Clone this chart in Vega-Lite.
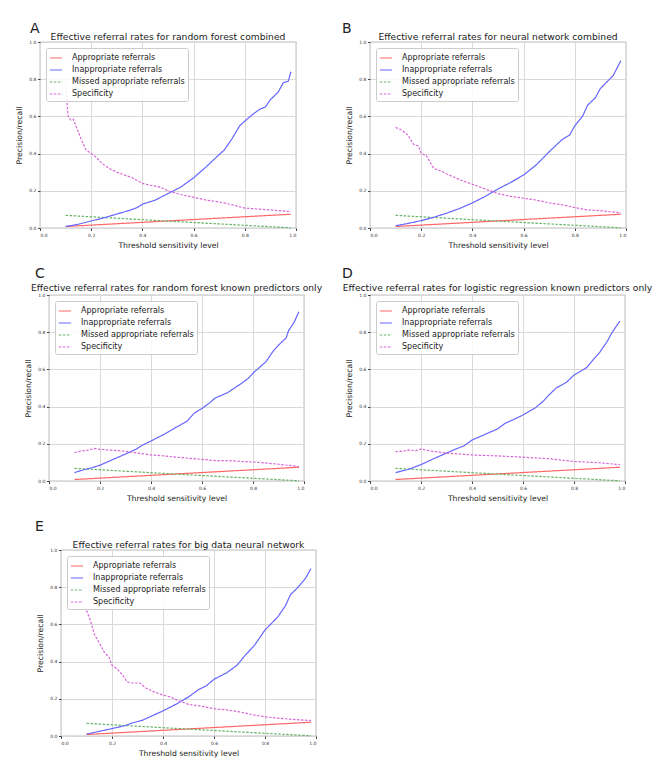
{
  "$schema": "https://vega.github.io/schema/vega-lite/v6.json",
  "padding": {"left": 0, "top": 22, "right": 0, "bottom": 0},
  "background": "white",
  "config": {
    "font": "DejaVu Sans",
    "view": {"stroke": "#444", "strokeWidth": 0.8},
    "axis": {"domain": false, "grid": true, "gridColor": "#d9d9d9", "gridWidth": 1, "tickColor": "#444", "tickSize": 2.5, "labelFontSize": 4.5, "labelColor": "#333", "titleFontSize": 7.7, "titleFontWeight": "normal", "titleColor": "#222", "labelPadding": 1.5, "titlePadding": 5},
    "title": {"fontSize": 9.2, "fontWeight": "normal", "color": "#222", "offset": -3.5, "frame": "group"},
    "legend": {"orient": "top-left", "fillColor": "rgba(255,255,255,0.85)", "strokeColor": "#cccccc", "padding": 3, "cornerRadius": 2, "offset": 6, "symbolType": "stroke", "symbolSize": 150, "symbolStrokeWidth": 1.1, "labelFontSize": 8, "labelColor": "#222", "rowPadding": 1, "labelOffset": 9},
    "line": {"strokeWidth": 1.2}
  },
  "datasets": {
    "rates": [
      {"panel": "A", "series": "Appropriate referrals", "threshold": 0.1, "rate": 0.008},
      {"panel": "A", "series": "Appropriate referrals", "threshold": 0.5, "rate": 0.038},
      {"panel": "A", "series": "Appropriate referrals", "threshold": 0.98, "rate": 0.074},
      {"panel": "A", "series": "Missed appropriate referrals", "threshold": 0.1, "rate": 0.068},
      {"panel": "A", "series": "Missed appropriate referrals", "threshold": 0.5, "rate": 0.037},
      {"panel": "A", "series": "Missed appropriate referrals", "threshold": 0.98, "rate": 0.001},
      {"panel": "A", "series": "Inappropriate referrals", "threshold": 0.1, "rate": 0.008},
      {"panel": "A", "series": "Inappropriate referrals", "threshold": 0.15, "rate": 0.02},
      {"panel": "A", "series": "Inappropriate referrals", "threshold": 0.2, "rate": 0.038},
      {"panel": "A", "series": "Inappropriate referrals", "threshold": 0.25, "rate": 0.055},
      {"panel": "A", "series": "Inappropriate referrals", "threshold": 0.3, "rate": 0.075},
      {"panel": "A", "series": "Inappropriate referrals", "threshold": 0.35, "rate": 0.095},
      {"panel": "A", "series": "Inappropriate referrals", "threshold": 0.38, "rate": 0.11},
      {"panel": "A", "series": "Inappropriate referrals", "threshold": 0.4, "rate": 0.128},
      {"panel": "A", "series": "Inappropriate referrals", "threshold": 0.45, "rate": 0.15},
      {"panel": "A", "series": "Inappropriate referrals", "threshold": 0.5, "rate": 0.185},
      {"panel": "A", "series": "Inappropriate referrals", "threshold": 0.55, "rate": 0.22},
      {"panel": "A", "series": "Inappropriate referrals", "threshold": 0.6, "rate": 0.27},
      {"panel": "A", "series": "Inappropriate referrals", "threshold": 0.65, "rate": 0.33},
      {"panel": "A", "series": "Inappropriate referrals", "threshold": 0.7, "rate": 0.395},
      {"panel": "A", "series": "Inappropriate referrals", "threshold": 0.72, "rate": 0.42},
      {"panel": "A", "series": "Inappropriate referrals", "threshold": 0.75, "rate": 0.48},
      {"panel": "A", "series": "Inappropriate referrals", "threshold": 0.78, "rate": 0.55},
      {"panel": "A", "series": "Inappropriate referrals", "threshold": 0.8, "rate": 0.575},
      {"panel": "A", "series": "Inappropriate referrals", "threshold": 0.83, "rate": 0.61},
      {"panel": "A", "series": "Inappropriate referrals", "threshold": 0.86, "rate": 0.64},
      {"panel": "A", "series": "Inappropriate referrals", "threshold": 0.88, "rate": 0.65},
      {"panel": "A", "series": "Inappropriate referrals", "threshold": 0.9, "rate": 0.69},
      {"panel": "A", "series": "Inappropriate referrals", "threshold": 0.93, "rate": 0.73},
      {"panel": "A", "series": "Inappropriate referrals", "threshold": 0.95, "rate": 0.78},
      {"panel": "A", "series": "Inappropriate referrals", "threshold": 0.97, "rate": 0.79},
      {"panel": "A", "series": "Inappropriate referrals", "threshold": 0.98, "rate": 0.84},
      {"panel": "A", "series": "Specificity", "threshold": 0.1, "rate": 0.78},
      {"panel": "A", "series": "Specificity", "threshold": 0.105, "rate": 0.68},
      {"panel": "A", "series": "Specificity", "threshold": 0.11, "rate": 0.6},
      {"panel": "A", "series": "Specificity", "threshold": 0.12, "rate": 0.58},
      {"panel": "A", "series": "Specificity", "threshold": 0.13, "rate": 0.585},
      {"panel": "A", "series": "Specificity", "threshold": 0.14, "rate": 0.55},
      {"panel": "A", "series": "Specificity", "threshold": 0.16, "rate": 0.48},
      {"panel": "A", "series": "Specificity", "threshold": 0.18, "rate": 0.42},
      {"panel": "A", "series": "Specificity", "threshold": 0.2, "rate": 0.4},
      {"panel": "A", "series": "Specificity", "threshold": 0.22, "rate": 0.38},
      {"panel": "A", "series": "Specificity", "threshold": 0.24, "rate": 0.35},
      {"panel": "A", "series": "Specificity", "threshold": 0.27, "rate": 0.32},
      {"panel": "A", "series": "Specificity", "threshold": 0.3, "rate": 0.3},
      {"panel": "A", "series": "Specificity", "threshold": 0.33, "rate": 0.285},
      {"panel": "A", "series": "Specificity", "threshold": 0.36, "rate": 0.27},
      {"panel": "A", "series": "Specificity", "threshold": 0.4, "rate": 0.24},
      {"panel": "A", "series": "Specificity", "threshold": 0.43, "rate": 0.23},
      {"panel": "A", "series": "Specificity", "threshold": 0.47, "rate": 0.22},
      {"panel": "A", "series": "Specificity", "threshold": 0.5, "rate": 0.2},
      {"panel": "A", "series": "Specificity", "threshold": 0.55, "rate": 0.18},
      {"panel": "A", "series": "Specificity", "threshold": 0.6, "rate": 0.165},
      {"panel": "A", "series": "Specificity", "threshold": 0.65, "rate": 0.15},
      {"panel": "A", "series": "Specificity", "threshold": 0.7, "rate": 0.14},
      {"panel": "A", "series": "Specificity", "threshold": 0.75, "rate": 0.125},
      {"panel": "A", "series": "Specificity", "threshold": 0.8, "rate": 0.107},
      {"panel": "A", "series": "Specificity", "threshold": 0.85, "rate": 0.102},
      {"panel": "A", "series": "Specificity", "threshold": 0.9, "rate": 0.097},
      {"panel": "A", "series": "Specificity", "threshold": 0.98, "rate": 0.088},

      {"panel": "B", "series": "Appropriate referrals", "threshold": 0.1, "rate": 0.008},
      {"panel": "B", "series": "Appropriate referrals", "threshold": 0.5, "rate": 0.038},
      {"panel": "B", "series": "Appropriate referrals", "threshold": 0.98, "rate": 0.074},
      {"panel": "B", "series": "Missed appropriate referrals", "threshold": 0.1, "rate": 0.068},
      {"panel": "B", "series": "Missed appropriate referrals", "threshold": 0.5, "rate": 0.037},
      {"panel": "B", "series": "Missed appropriate referrals", "threshold": 0.98, "rate": 0.001},
      {"panel": "B", "series": "Inappropriate referrals", "threshold": 0.1, "rate": 0.012},
      {"panel": "B", "series": "Inappropriate referrals", "threshold": 0.15, "rate": 0.025},
      {"panel": "B", "series": "Inappropriate referrals", "threshold": 0.2, "rate": 0.04},
      {"panel": "B", "series": "Inappropriate referrals", "threshold": 0.25, "rate": 0.058},
      {"panel": "B", "series": "Inappropriate referrals", "threshold": 0.3, "rate": 0.08},
      {"panel": "B", "series": "Inappropriate referrals", "threshold": 0.35, "rate": 0.105},
      {"panel": "B", "series": "Inappropriate referrals", "threshold": 0.4, "rate": 0.135},
      {"panel": "B", "series": "Inappropriate referrals", "threshold": 0.45, "rate": 0.17},
      {"panel": "B", "series": "Inappropriate referrals", "threshold": 0.5, "rate": 0.21},
      {"panel": "B", "series": "Inappropriate referrals", "threshold": 0.55, "rate": 0.245},
      {"panel": "B", "series": "Inappropriate referrals", "threshold": 0.6, "rate": 0.285},
      {"panel": "B", "series": "Inappropriate referrals", "threshold": 0.65, "rate": 0.34},
      {"panel": "B", "series": "Inappropriate referrals", "threshold": 0.7, "rate": 0.41},
      {"panel": "B", "series": "Inappropriate referrals", "threshold": 0.75, "rate": 0.475},
      {"panel": "B", "series": "Inappropriate referrals", "threshold": 0.78, "rate": 0.5},
      {"panel": "B", "series": "Inappropriate referrals", "threshold": 0.8, "rate": 0.55},
      {"panel": "B", "series": "Inappropriate referrals", "threshold": 0.83, "rate": 0.6},
      {"panel": "B", "series": "Inappropriate referrals", "threshold": 0.85, "rate": 0.66},
      {"panel": "B", "series": "Inappropriate referrals", "threshold": 0.88, "rate": 0.7},
      {"panel": "B", "series": "Inappropriate referrals", "threshold": 0.9, "rate": 0.75},
      {"panel": "B", "series": "Inappropriate referrals", "threshold": 0.95, "rate": 0.82},
      {"panel": "B", "series": "Inappropriate referrals", "threshold": 0.98, "rate": 0.9},
      {"panel": "B", "series": "Specificity", "threshold": 0.1, "rate": 0.54},
      {"panel": "B", "series": "Specificity", "threshold": 0.12, "rate": 0.53},
      {"panel": "B", "series": "Specificity", "threshold": 0.14, "rate": 0.51},
      {"panel": "B", "series": "Specificity", "threshold": 0.15, "rate": 0.495},
      {"panel": "B", "series": "Specificity", "threshold": 0.17, "rate": 0.45},
      {"panel": "B", "series": "Specificity", "threshold": 0.19, "rate": 0.44},
      {"panel": "B", "series": "Specificity", "threshold": 0.2, "rate": 0.4},
      {"panel": "B", "series": "Specificity", "threshold": 0.22, "rate": 0.39},
      {"panel": "B", "series": "Specificity", "threshold": 0.24, "rate": 0.34},
      {"panel": "B", "series": "Specificity", "threshold": 0.25, "rate": 0.32},
      {"panel": "B", "series": "Specificity", "threshold": 0.28, "rate": 0.305},
      {"panel": "B", "series": "Specificity", "threshold": 0.3, "rate": 0.29},
      {"panel": "B", "series": "Specificity", "threshold": 0.35, "rate": 0.26},
      {"panel": "B", "series": "Specificity", "threshold": 0.4, "rate": 0.235},
      {"panel": "B", "series": "Specificity", "threshold": 0.45, "rate": 0.21},
      {"panel": "B", "series": "Specificity", "threshold": 0.5, "rate": 0.185},
      {"panel": "B", "series": "Specificity", "threshold": 0.55, "rate": 0.17},
      {"panel": "B", "series": "Specificity", "threshold": 0.6, "rate": 0.16},
      {"panel": "B", "series": "Specificity", "threshold": 0.65, "rate": 0.15},
      {"panel": "B", "series": "Specificity", "threshold": 0.7, "rate": 0.135},
      {"panel": "B", "series": "Specificity", "threshold": 0.75, "rate": 0.125},
      {"panel": "B", "series": "Specificity", "threshold": 0.8, "rate": 0.11},
      {"panel": "B", "series": "Specificity", "threshold": 0.85, "rate": 0.097},
      {"panel": "B", "series": "Specificity", "threshold": 0.9, "rate": 0.093},
      {"panel": "B", "series": "Specificity", "threshold": 0.98, "rate": 0.082},

      {"panel": "C", "series": "Appropriate referrals", "threshold": 0.1, "rate": 0.008},
      {"panel": "C", "series": "Appropriate referrals", "threshold": 0.5, "rate": 0.038},
      {"panel": "C", "series": "Appropriate referrals", "threshold": 0.98, "rate": 0.074},
      {"panel": "C", "series": "Missed appropriate referrals", "threshold": 0.1, "rate": 0.068},
      {"panel": "C", "series": "Missed appropriate referrals", "threshold": 0.5, "rate": 0.037},
      {"panel": "C", "series": "Missed appropriate referrals", "threshold": 0.98, "rate": 0.001},
      {"panel": "C", "series": "Inappropriate referrals", "threshold": 0.1, "rate": 0.045},
      {"panel": "C", "series": "Inappropriate referrals", "threshold": 0.13, "rate": 0.058},
      {"panel": "C", "series": "Inappropriate referrals", "threshold": 0.17, "rate": 0.072},
      {"panel": "C", "series": "Inappropriate referrals", "threshold": 0.2, "rate": 0.085},
      {"panel": "C", "series": "Inappropriate referrals", "threshold": 0.25, "rate": 0.115},
      {"panel": "C", "series": "Inappropriate referrals", "threshold": 0.3, "rate": 0.145},
      {"panel": "C", "series": "Inappropriate referrals", "threshold": 0.34, "rate": 0.17},
      {"panel": "C", "series": "Inappropriate referrals", "threshold": 0.37, "rate": 0.195},
      {"panel": "C", "series": "Inappropriate referrals", "threshold": 0.4, "rate": 0.215},
      {"panel": "C", "series": "Inappropriate referrals", "threshold": 0.45, "rate": 0.25},
      {"panel": "C", "series": "Inappropriate referrals", "threshold": 0.5, "rate": 0.29},
      {"panel": "C", "series": "Inappropriate referrals", "threshold": 0.54, "rate": 0.32},
      {"panel": "C", "series": "Inappropriate referrals", "threshold": 0.57, "rate": 0.365},
      {"panel": "C", "series": "Inappropriate referrals", "threshold": 0.6, "rate": 0.39},
      {"panel": "C", "series": "Inappropriate referrals", "threshold": 0.63, "rate": 0.42},
      {"panel": "C", "series": "Inappropriate referrals", "threshold": 0.65, "rate": 0.445},
      {"panel": "C", "series": "Inappropriate referrals", "threshold": 0.7, "rate": 0.475},
      {"panel": "C", "series": "Inappropriate referrals", "threshold": 0.75, "rate": 0.52},
      {"panel": "C", "series": "Inappropriate referrals", "threshold": 0.78, "rate": 0.55},
      {"panel": "C", "series": "Inappropriate referrals", "threshold": 0.8, "rate": 0.58},
      {"panel": "C", "series": "Inappropriate referrals", "threshold": 0.85, "rate": 0.64},
      {"panel": "C", "series": "Inappropriate referrals", "threshold": 0.88, "rate": 0.7},
      {"panel": "C", "series": "Inappropriate referrals", "threshold": 0.9, "rate": 0.73},
      {"panel": "C", "series": "Inappropriate referrals", "threshold": 0.93, "rate": 0.77},
      {"panel": "C", "series": "Inappropriate referrals", "threshold": 0.94, "rate": 0.81},
      {"panel": "C", "series": "Inappropriate referrals", "threshold": 0.96, "rate": 0.85},
      {"panel": "C", "series": "Inappropriate referrals", "threshold": 0.98, "rate": 0.91},
      {"panel": "C", "series": "Specificity", "threshold": 0.1, "rate": 0.152},
      {"panel": "C", "series": "Specificity", "threshold": 0.12, "rate": 0.16},
      {"panel": "C", "series": "Specificity", "threshold": 0.15, "rate": 0.165},
      {"panel": "C", "series": "Specificity", "threshold": 0.18, "rate": 0.175},
      {"panel": "C", "series": "Specificity", "threshold": 0.2, "rate": 0.17},
      {"panel": "C", "series": "Specificity", "threshold": 0.25, "rate": 0.165},
      {"panel": "C", "series": "Specificity", "threshold": 0.3, "rate": 0.16},
      {"panel": "C", "series": "Specificity", "threshold": 0.35, "rate": 0.15},
      {"panel": "C", "series": "Specificity", "threshold": 0.4, "rate": 0.14},
      {"panel": "C", "series": "Specificity", "threshold": 0.45, "rate": 0.135},
      {"panel": "C", "series": "Specificity", "threshold": 0.5, "rate": 0.128},
      {"panel": "C", "series": "Specificity", "threshold": 0.55, "rate": 0.122},
      {"panel": "C", "series": "Specificity", "threshold": 0.6, "rate": 0.116},
      {"panel": "C", "series": "Specificity", "threshold": 0.65, "rate": 0.11},
      {"panel": "C", "series": "Specificity", "threshold": 0.7, "rate": 0.11},
      {"panel": "C", "series": "Specificity", "threshold": 0.75, "rate": 0.105},
      {"panel": "C", "series": "Specificity", "threshold": 0.8, "rate": 0.102},
      {"panel": "C", "series": "Specificity", "threshold": 0.85, "rate": 0.097},
      {"panel": "C", "series": "Specificity", "threshold": 0.9, "rate": 0.09},
      {"panel": "C", "series": "Specificity", "threshold": 0.98, "rate": 0.078},

      {"panel": "D", "series": "Appropriate referrals", "threshold": 0.1, "rate": 0.008},
      {"panel": "D", "series": "Appropriate referrals", "threshold": 0.5, "rate": 0.038},
      {"panel": "D", "series": "Appropriate referrals", "threshold": 0.98, "rate": 0.074},
      {"panel": "D", "series": "Missed appropriate referrals", "threshold": 0.1, "rate": 0.068},
      {"panel": "D", "series": "Missed appropriate referrals", "threshold": 0.5, "rate": 0.037},
      {"panel": "D", "series": "Missed appropriate referrals", "threshold": 0.98, "rate": 0.001},
      {"panel": "D", "series": "Inappropriate referrals", "threshold": 0.1, "rate": 0.045},
      {"panel": "D", "series": "Inappropriate referrals", "threshold": 0.15, "rate": 0.062},
      {"panel": "D", "series": "Inappropriate referrals", "threshold": 0.2, "rate": 0.088},
      {"panel": "D", "series": "Inappropriate referrals", "threshold": 0.25, "rate": 0.12},
      {"panel": "D", "series": "Inappropriate referrals", "threshold": 0.3, "rate": 0.15},
      {"panel": "D", "series": "Inappropriate referrals", "threshold": 0.33, "rate": 0.168},
      {"panel": "D", "series": "Inappropriate referrals", "threshold": 0.37, "rate": 0.19},
      {"panel": "D", "series": "Inappropriate referrals", "threshold": 0.4, "rate": 0.22},
      {"panel": "D", "series": "Inappropriate referrals", "threshold": 0.45, "rate": 0.25},
      {"panel": "D", "series": "Inappropriate referrals", "threshold": 0.5, "rate": 0.28},
      {"panel": "D", "series": "Inappropriate referrals", "threshold": 0.53, "rate": 0.31},
      {"panel": "D", "series": "Inappropriate referrals", "threshold": 0.57, "rate": 0.335},
      {"panel": "D", "series": "Inappropriate referrals", "threshold": 0.6, "rate": 0.355},
      {"panel": "D", "series": "Inappropriate referrals", "threshold": 0.65, "rate": 0.395},
      {"panel": "D", "series": "Inappropriate referrals", "threshold": 0.68, "rate": 0.43},
      {"panel": "D", "series": "Inappropriate referrals", "threshold": 0.7, "rate": 0.46},
      {"panel": "D", "series": "Inappropriate referrals", "threshold": 0.73, "rate": 0.5},
      {"panel": "D", "series": "Inappropriate referrals", "threshold": 0.77, "rate": 0.53},
      {"panel": "D", "series": "Inappropriate referrals", "threshold": 0.8, "rate": 0.57},
      {"panel": "D", "series": "Inappropriate referrals", "threshold": 0.85, "rate": 0.61},
      {"panel": "D", "series": "Inappropriate referrals", "threshold": 0.88, "rate": 0.66},
      {"panel": "D", "series": "Inappropriate referrals", "threshold": 0.9, "rate": 0.69},
      {"panel": "D", "series": "Inappropriate referrals", "threshold": 0.93, "rate": 0.75},
      {"panel": "D", "series": "Inappropriate referrals", "threshold": 0.95, "rate": 0.8},
      {"panel": "D", "series": "Inappropriate referrals", "threshold": 0.98, "rate": 0.86},
      {"panel": "D", "series": "Specificity", "threshold": 0.1, "rate": 0.158},
      {"panel": "D", "series": "Specificity", "threshold": 0.13, "rate": 0.16},
      {"panel": "D", "series": "Specificity", "threshold": 0.15, "rate": 0.167},
      {"panel": "D", "series": "Specificity", "threshold": 0.18, "rate": 0.163},
      {"panel": "D", "series": "Specificity", "threshold": 0.2, "rate": 0.172},
      {"panel": "D", "series": "Specificity", "threshold": 0.23, "rate": 0.163},
      {"panel": "D", "series": "Specificity", "threshold": 0.3, "rate": 0.15},
      {"panel": "D", "series": "Specificity", "threshold": 0.4, "rate": 0.14},
      {"panel": "D", "series": "Specificity", "threshold": 0.5, "rate": 0.135},
      {"panel": "D", "series": "Specificity", "threshold": 0.6, "rate": 0.128},
      {"panel": "D", "series": "Specificity", "threshold": 0.7, "rate": 0.12},
      {"panel": "D", "series": "Specificity", "threshold": 0.8, "rate": 0.105},
      {"panel": "D", "series": "Specificity", "threshold": 0.9, "rate": 0.098},
      {"panel": "D", "series": "Specificity", "threshold": 0.98, "rate": 0.088},

      {"panel": "E", "series": "Appropriate referrals", "threshold": 0.1, "rate": 0.008},
      {"panel": "E", "series": "Appropriate referrals", "threshold": 0.5, "rate": 0.038},
      {"panel": "E", "series": "Appropriate referrals", "threshold": 0.98, "rate": 0.074},
      {"panel": "E", "series": "Missed appropriate referrals", "threshold": 0.1, "rate": 0.068},
      {"panel": "E", "series": "Missed appropriate referrals", "threshold": 0.5, "rate": 0.037},
      {"panel": "E", "series": "Missed appropriate referrals", "threshold": 0.98, "rate": 0.001},
      {"panel": "E", "series": "Inappropriate referrals", "threshold": 0.1, "rate": 0.01},
      {"panel": "E", "series": "Inappropriate referrals", "threshold": 0.15, "rate": 0.025},
      {"panel": "E", "series": "Inappropriate referrals", "threshold": 0.2, "rate": 0.04},
      {"panel": "E", "series": "Inappropriate referrals", "threshold": 0.25, "rate": 0.055},
      {"panel": "E", "series": "Inappropriate referrals", "threshold": 0.28, "rate": 0.07},
      {"panel": "E", "series": "Inappropriate referrals", "threshold": 0.32, "rate": 0.085},
      {"panel": "E", "series": "Inappropriate referrals", "threshold": 0.36, "rate": 0.11},
      {"panel": "E", "series": "Inappropriate referrals", "threshold": 0.4, "rate": 0.135},
      {"panel": "E", "series": "Inappropriate referrals", "threshold": 0.45, "rate": 0.17},
      {"panel": "E", "series": "Inappropriate referrals", "threshold": 0.5, "rate": 0.21},
      {"panel": "E", "series": "Inappropriate referrals", "threshold": 0.54, "rate": 0.25},
      {"panel": "E", "series": "Inappropriate referrals", "threshold": 0.57, "rate": 0.27},
      {"panel": "E", "series": "Inappropriate referrals", "threshold": 0.6, "rate": 0.305},
      {"panel": "E", "series": "Inappropriate referrals", "threshold": 0.65, "rate": 0.34},
      {"panel": "E", "series": "Inappropriate referrals", "threshold": 0.69, "rate": 0.38},
      {"panel": "E", "series": "Inappropriate referrals", "threshold": 0.72, "rate": 0.43},
      {"panel": "E", "series": "Inappropriate referrals", "threshold": 0.76, "rate": 0.49},
      {"panel": "E", "series": "Inappropriate referrals", "threshold": 0.8, "rate": 0.57},
      {"panel": "E", "series": "Inappropriate referrals", "threshold": 0.85, "rate": 0.64},
      {"panel": "E", "series": "Inappropriate referrals", "threshold": 0.88, "rate": 0.7},
      {"panel": "E", "series": "Inappropriate referrals", "threshold": 0.9, "rate": 0.76},
      {"panel": "E", "series": "Inappropriate referrals", "threshold": 0.93, "rate": 0.8},
      {"panel": "E", "series": "Inappropriate referrals", "threshold": 0.96, "rate": 0.85},
      {"panel": "E", "series": "Inappropriate referrals", "threshold": 0.98, "rate": 0.9},
      {"panel": "E", "series": "Specificity", "threshold": 0.1, "rate": 0.675},
      {"panel": "E", "series": "Specificity", "threshold": 0.11, "rate": 0.64},
      {"panel": "E", "series": "Specificity", "threshold": 0.12, "rate": 0.6},
      {"panel": "E", "series": "Specificity", "threshold": 0.13, "rate": 0.55},
      {"panel": "E", "series": "Specificity", "threshold": 0.15, "rate": 0.5},
      {"panel": "E", "series": "Specificity", "threshold": 0.17, "rate": 0.45},
      {"panel": "E", "series": "Specificity", "threshold": 0.19, "rate": 0.42},
      {"panel": "E", "series": "Specificity", "threshold": 0.2, "rate": 0.38},
      {"panel": "E", "series": "Specificity", "threshold": 0.22, "rate": 0.36},
      {"panel": "E", "series": "Specificity", "threshold": 0.24, "rate": 0.33},
      {"panel": "E", "series": "Specificity", "threshold": 0.26, "rate": 0.29},
      {"panel": "E", "series": "Specificity", "threshold": 0.28, "rate": 0.285},
      {"panel": "E", "series": "Specificity", "threshold": 0.31, "rate": 0.285},
      {"panel": "E", "series": "Specificity", "threshold": 0.33, "rate": 0.26},
      {"panel": "E", "series": "Specificity", "threshold": 0.36, "rate": 0.24},
      {"panel": "E", "series": "Specificity", "threshold": 0.4, "rate": 0.22},
      {"panel": "E", "series": "Specificity", "threshold": 0.43, "rate": 0.21},
      {"panel": "E", "series": "Specificity", "threshold": 0.46, "rate": 0.19},
      {"panel": "E", "series": "Specificity", "threshold": 0.5, "rate": 0.17},
      {"panel": "E", "series": "Specificity", "threshold": 0.55, "rate": 0.16},
      {"panel": "E", "series": "Specificity", "threshold": 0.6, "rate": 0.147},
      {"panel": "E", "series": "Specificity", "threshold": 0.65, "rate": 0.14},
      {"panel": "E", "series": "Specificity", "threshold": 0.7, "rate": 0.13},
      {"panel": "E", "series": "Specificity", "threshold": 0.75, "rate": 0.115},
      {"panel": "E", "series": "Specificity", "threshold": 0.8, "rate": 0.103},
      {"panel": "E", "series": "Specificity", "threshold": 0.85, "rate": 0.096},
      {"panel": "E", "series": "Specificity", "threshold": 0.9, "rate": 0.09},
      {"panel": "E", "series": "Specificity", "threshold": 0.98, "rate": 0.083}
    ]
  },
  "spacing": 17,
  "resolve": {"scale": {"color": "independent", "strokeDash": "independent"}, "legend": {"color": "independent", "strokeDash": "independent"}},
  "vconcat": [
    {
      "spacing": 0,
      "bounds": "flush",
      "resolve": {"scale": {"color": "independent", "strokeDash": "independent"}, "legend": {"color": "independent", "strokeDash": "independent"}},
      "hconcat": [
        {
          "width": 40, "height": 186, "view": {"stroke": null},
          "data": {"values": []}, "mark": "point",
          "title": {"text": "A", "anchor": "start", "frame": "group", "fontSize": 14, "offset": 6, "dx": 30}
        },
        {
          "width": 256, "height": 186,
          "title": "Effective referral rates for random forest combined",
          "data": {"name": "rates"},
          "transform": [{"filter": "datum.panel === 'A'"}],
          "mark": "line",
          "encoding": {
            "x": {"field": "threshold", "type": "quantitative", "scale": {"domain": [0, 1]}, "axis": {"title": "Threshold sensitivity level", "values": [0, 0.2, 0.4, 0.6, 0.8, 1], "format": ".1f"}},
            "y": {"field": "rate", "type": "quantitative", "scale": {"domain": [0, 1]}, "axis": {"title": "Precision/recall", "values": [0, 0.2, 0.4, 0.6, 0.8, 1], "format": ".1f"}},
            "color": {"field": "series", "type": "nominal", "scale": {"domain": ["Appropriate referrals", "Inappropriate referrals", "Missed appropriate referrals", "Specificity"], "range": ["#ff6666", "#6666ff", "#66b366", "#d866d8"]}, "legend": {"title": null}},
            "strokeDash": {"field": "series", "type": "nominal", "scale": {"domain": ["Appropriate referrals", "Inappropriate referrals", "Missed appropriate referrals", "Specificity"], "range": [[1, 0], [1, 0], [2.5, 1.5], [2.5, 1.5]]}, "legend": {"title": null}}
          }
        },
        {
          "width": 74, "height": 186, "view": {"stroke": null},
          "data": {"values": []}, "mark": "point",
          "title": {"text": "B", "anchor": "start", "frame": "group", "fontSize": 14, "offset": 6, "dx": 46}
        },
        {
          "width": 256, "height": 186,
          "title": "Effective referral rates for neural network combined",
          "data": {"name": "rates"},
          "transform": [{"filter": "datum.panel === 'B'"}],
          "mark": "line",
          "encoding": {
            "x": {"field": "threshold", "type": "quantitative", "scale": {"domain": [0, 1]}, "axis": {"title": "Threshold sensitivity level", "values": [0, 0.2, 0.4, 0.6, 0.8, 1], "format": ".1f"}},
            "y": {"field": "rate", "type": "quantitative", "scale": {"domain": [0, 1]}, "axis": {"title": "Precision/recall", "values": [0, 0.2, 0.4, 0.6, 0.8, 1], "format": ".1f"}},
            "color": {"field": "series", "type": "nominal", "scale": {"domain": ["Appropriate referrals", "Inappropriate referrals", "Missed appropriate referrals", "Specificity"], "range": ["#ff6666", "#6666ff", "#66b366", "#d866d8"]}, "legend": {"title": null}},
            "strokeDash": {"field": "series", "type": "nominal", "scale": {"domain": ["Appropriate referrals", "Inappropriate referrals", "Missed appropriate referrals", "Specificity"], "range": [[1, 0], [1, 0], [2.5, 1.5], [2.5, 1.5]]}, "legend": {"title": null}}
          }
        }
      ]
    },
    {
      "spacing": 0,
      "bounds": "flush",
      "resolve": {"scale": {"color": "independent", "strokeDash": "independent"}, "legend": {"color": "independent", "strokeDash": "independent"}},
      "hconcat": [
        {
          "width": 49, "height": 186, "view": {"stroke": null},
          "data": {"values": []}, "mark": "point",
          "title": {"text": "C", "anchor": "start", "frame": "group", "fontSize": 14, "offset": 14, "dx": 35}
        },
        {
          "width": 255, "height": 186,
          "title": {"text": "Effective referral rates for random forest known predictors only", "offset": -1},
          "data": {"name": "rates"},
          "transform": [{"filter": "datum.panel === 'C'"}],
          "mark": "line",
          "encoding": {
            "x": {"field": "threshold", "type": "quantitative", "scale": {"domain": [0, 1]}, "axis": {"title": "Threshold sensitivity level", "values": [0, 0.2, 0.4, 0.6, 0.8, 1], "format": ".1f"}},
            "y": {"field": "rate", "type": "quantitative", "scale": {"domain": [0, 1]}, "axis": {"title": "Precision/recall", "values": [0, 0.2, 0.4, 0.6, 0.8, 1], "format": ".1f"}},
            "color": {"field": "series", "type": "nominal", "scale": {"domain": ["Appropriate referrals", "Inappropriate referrals", "Missed appropriate referrals", "Specificity"], "range": ["#ff6666", "#6666ff", "#66b366", "#d866d8"]}, "legend": {"title": null}},
            "strokeDash": {"field": "series", "type": "nominal", "scale": {"domain": ["Appropriate referrals", "Inappropriate referrals", "Missed appropriate referrals", "Specificity"], "range": [[1, 0], [1, 0], [2.5, 1.5], [2.5, 1.5]]}, "legend": {"title": null}}
          }
        },
        {
          "width": 66, "height": 186, "view": {"stroke": null},
          "data": {"values": []}, "mark": "point",
          "title": {"text": "D", "anchor": "start", "frame": "group", "fontSize": 14, "offset": 14, "dx": 38}
        },
        {
          "width": 255, "height": 186,
          "title": {"text": "Effective referral rates for logistic regression known predictors only", "offset": -1},
          "data": {"name": "rates"},
          "transform": [{"filter": "datum.panel === 'D'"}],
          "mark": "line",
          "encoding": {
            "x": {"field": "threshold", "type": "quantitative", "scale": {"domain": [0, 1]}, "axis": {"title": "Threshold sensitivity level", "values": [0, 0.2, 0.4, 0.6, 0.8, 1], "format": ".1f"}},
            "y": {"field": "rate", "type": "quantitative", "scale": {"domain": [0, 1]}, "axis": {"title": "Precision/recall", "values": [0, 0.2, 0.4, 0.6, 0.8, 1], "format": ".1f"}},
            "color": {"field": "series", "type": "nominal", "scale": {"domain": ["Appropriate referrals", "Inappropriate referrals", "Missed appropriate referrals", "Specificity"], "range": ["#ff6666", "#6666ff", "#66b366", "#d866d8"]}, "legend": {"title": null}},
            "strokeDash": {"field": "series", "type": "nominal", "scale": {"domain": ["Appropriate referrals", "Inappropriate referrals", "Missed appropriate referrals", "Specificity"], "range": [[1, 0], [1, 0], [2.5, 1.5], [2.5, 1.5]]}, "legend": {"title": null}}
          }
        }
      ]
    },
    {
      "spacing": 0,
      "bounds": "flush",
      "resolve": {"scale": {"color": "independent", "strokeDash": "independent"}, "legend": {"color": "independent", "strokeDash": "independent"}},
      "hconcat": [
        {
          "width": 61, "height": 186, "view": {"stroke": null},
          "data": {"values": []}, "mark": "point",
          "title": {"text": "E", "anchor": "start", "frame": "group", "fontSize": 14, "offset": 16, "dx": 35}
        },
        {
          "width": 255, "height": 186,
          "title": "Effective referral rates for big data neural network",
          "data": {"name": "rates"},
          "transform": [{"filter": "datum.panel === 'E'"}],
          "mark": "line",
          "encoding": {
            "x": {"field": "threshold", "type": "quantitative", "scale": {"domain": [0, 1]}, "axis": {"title": "Threshold sensitivity level", "values": [0, 0.2, 0.4, 0.6, 0.8, 1], "format": ".1f"}},
            "y": {"field": "rate", "type": "quantitative", "scale": {"domain": [0, 1]}, "axis": {"title": "Precision/recall", "values": [0, 0.2, 0.4, 0.6, 0.8, 1], "format": ".1f"}},
            "color": {"field": "series", "type": "nominal", "scale": {"domain": ["Appropriate referrals", "Inappropriate referrals", "Missed appropriate referrals", "Specificity"], "range": ["#ff6666", "#6666ff", "#66b366", "#d866d8"]}, "legend": {"title": null}},
            "strokeDash": {"field": "series", "type": "nominal", "scale": {"domain": ["Appropriate referrals", "Inappropriate referrals", "Missed appropriate referrals", "Specificity"], "range": [[1, 0], [1, 0], [2.5, 1.5], [2.5, 1.5]]}, "legend": {"title": null}}
          }
        }
      ]
    }
  ]
}
